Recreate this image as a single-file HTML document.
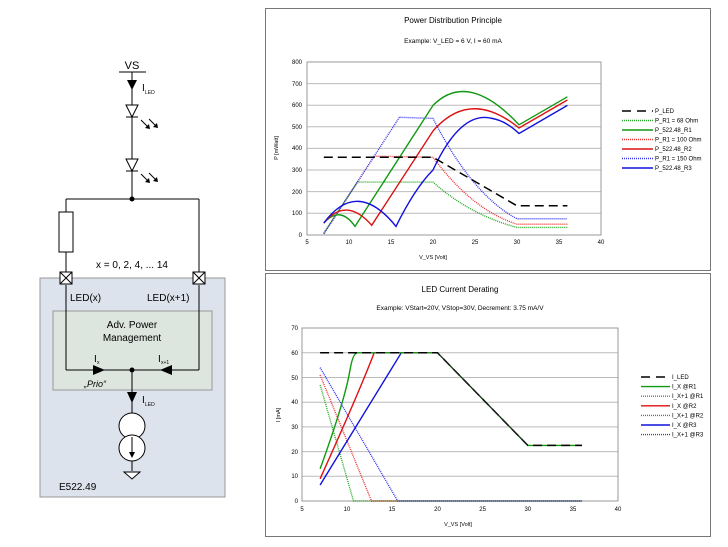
<!DOCTYPE html>
<html><head><meta charset="utf-8"><style>
html,body{margin:0;padding:0;background:#fff;}
svg{display:block;font-family:"Liberation Sans",sans-serif;}
</style></head><body>
<svg width="728" height="547" viewBox="0 0 728 547" xmlns="http://www.w3.org/2000/svg">
<!-- LEFT DIAGRAM -->
<rect x="40" y="278" width="185" height="219" fill="#dce3ec" stroke="#999" stroke-width="1"/>
<rect x="53" y="311" width="159" height="79" fill="#dde5df" stroke="#999" stroke-width="1"/>
<g stroke="#000" stroke-width="1" fill="none">
<line x1="119" y1="72" x2="146" y2="72"/>
<line x1="132" y1="72" x2="132" y2="199"/>
<line x1="66" y1="199" x2="199" y2="199"/>
<line x1="66" y1="199" x2="66" y2="212"/>
<line x1="66" y1="252" x2="66" y2="272"/>
<line x1="199" y1="199" x2="199" y2="272"/>
<line x1="66" y1="285" x2="66" y2="370"/>
<line x1="199" y1="285" x2="199" y2="370"/>
<line x1="66" y1="370" x2="199" y2="370"/>
<line x1="132" y1="370" x2="132" y2="413"/>
<line x1="132" y1="461" x2="132" y2="471"/>
</g>
<text x="132" y="69" font-size="11" text-anchor="middle">VS</text>
<polygon points="127,80 137,80 132,90" fill="#000"/>
<text x="142" y="91" font-size="10">I</text><text x="145" y="94" font-size="5">LED</text>
<!-- diodes -->
<polygon points="126,105 138,105 132,117" fill="#fff" stroke="#000"/>
<line x1="126" y1="117" x2="138" y2="117" stroke="#000"/>
<polygon points="126,159 138,159 132,171" fill="#fff" stroke="#000"/>
<line x1="126" y1="171" x2="138" y2="171" stroke="#000"/>
<g stroke="#000" stroke-width="1">
<line x1="141" y1="120" x2="149" y2="128"/><line x1="149" y1="119" x2="157" y2="127"/>
<line x1="141" y1="174" x2="149" y2="182"/><line x1="149" y1="173" x2="157" y2="181"/>
</g>
<g fill="#000">
<polygon points="150,129 145,128 149,124"/><polygon points="158,128 153,127 157,123"/>
<polygon points="150,183 145,182 149,178"/><polygon points="158,182 153,181 157,177"/>
</g>
<circle cx="132" cy="199" r="2.5" fill="#000"/>
<rect x="59" y="212" width="14" height="40" fill="#fff" stroke="#000"/>
<!-- pads -->
<g stroke="#000" fill="#fff">
<rect x="60" y="272" width="12" height="12"/>
<line x1="60" y1="272" x2="72" y2="284"/><line x1="72" y1="272" x2="60" y2="284"/>
<rect x="193" y="272" width="12" height="12"/>
<line x1="193" y1="272" x2="205" y2="284"/><line x1="205" y1="272" x2="193" y2="284"/>
</g>
<text x="132" y="268" font-size="10" text-anchor="middle">x = 0, 2, 4, ... 14</text>
<text x="70" y="301" font-size="10">LED(x)</text>
<text x="147" y="301" font-size="10">LED(x+1)</text>
<text x="132" y="328" font-size="10" text-anchor="middle">Adv. Power</text>
<text x="132" y="341" font-size="10" text-anchor="middle">Management</text>
<polygon points="93,365 105,370 93,375" fill="#000"/>
<polygon points="172,365 160,370 172,375" fill="#000"/>
<circle cx="132" cy="370" r="2.5" fill="#000"/>
<text x="94" y="362" font-size="10">I</text><text x="97" y="364" font-size="5">x</text>
<text x="158" y="362" font-size="10">I</text><text x="161" y="364" font-size="5">x+1</text>
<text x="84" y="387" font-size="9" font-style="italic">„Prio“</text>
<polygon points="127,392 137,392 132,403" fill="#000"/>
<text x="142" y="403" font-size="10">I</text><text x="145" y="406" font-size="5">LED</text>
<circle cx="132" cy="426" r="13" fill="#fff" stroke="#000"/>
<circle cx="132" cy="448" r="13" fill="#fff" stroke="#000"/>
<line x1="132" y1="437" x2="132" y2="456" stroke="#000"/>
<polygon points="129,452 135,452 132,458" fill="#000"/>
<polygon points="124,472 140,472 132,479" fill="#fff" stroke="#000"/>
<text x="59" y="490" font-size="10">E522.49</text>

<!-- TOP CHART -->
<rect x="265.5" y="8.5" width="445" height="262" fill="#fff" stroke="#777"/>
<text x="453" y="23" font-size="8" text-anchor="middle">Power Distribution Principle</text>
<text x="453" y="43" font-size="6.5" text-anchor="middle">Example: V_LED = 6 V, I = 60 mA</text>
<g stroke="#bbb" stroke-width="1">
<line x1="307" y1="62" x2="601" y2="62"/><line x1="307" y1="83.6" x2="601" y2="83.6"/>
<line x1="307" y1="105.2" x2="601" y2="105.2"/><line x1="307" y1="126.8" x2="601" y2="126.8"/>
<line x1="307" y1="148.4" x2="601" y2="148.4"/><line x1="307" y1="170" x2="601" y2="170"/>
<line x1="307" y1="191.6" x2="601" y2="191.6"/><line x1="307" y1="213.2" x2="601" y2="213.2"/>
</g>
<rect x="307" y="62" width="294" height="173" fill="none" stroke="#999"/>
<g font-size="6" text-anchor="end">
<text x="302" y="64">800</text><text x="302" y="86">700</text><text x="302" y="107">600</text>
<text x="302" y="129">500</text><text x="302" y="150">400</text><text x="302" y="172">300</text>
<text x="302" y="194">200</text><text x="302" y="215">100</text><text x="302" y="237">0</text>
</g>
<g font-size="6" text-anchor="middle">
<text x="307" y="244">5</text><text x="349" y="244">10</text><text x="391" y="244">15</text>
<text x="433" y="244">20</text><text x="475" y="244">25</text><text x="517" y="244">30</text>
<text x="559" y="244">35</text><text x="601" y="244">40</text>
</g>
<text x="433" y="259" font-size="5.5" text-anchor="middle">V_VS [Volt]</text>
<text transform="translate(278,148) rotate(-90)" font-size="5.5" text-anchor="middle">P [mWatt]</text>
<g fill="none" stroke-width="1.4">
<path d="M323.8,232.8 L357.4,182.1 L433,182.1 Q470,215 517,227.4 L567.4,227.4" stroke="#22aa22" stroke-dasharray="1,1"/>
<path d="M323.8,233.9 L374.2,156.2 L433,157.2 Q472,210 517,224.2 L567.4,224.2" stroke="#ee3333" stroke-dasharray="1,1"/>
<path d="M323.8,233.9 L399.4,117.3 L433,118.4 Q472,195 517,218.8 L567.4,218.8" stroke="#3333ee" stroke-dasharray="1,1"/>
<path d="M323.8,223.1 Q340,205 355,226.4 L433,105.4 Q468,70 519,124.8 L567.4,96.8" stroke="#119911"/>
<path d="M323.8,223.1 Q346,196 371.7,225.3 L433,131 Q470,88 519,128 L567.4,100" stroke="#dd1111"/>
<path d="M323.8,223.1 Q357,178 396,226.4 Q415,188 433,170 Q460,112 490,118 Q505,120 519,133.5 L567.4,105.4" stroke="#1111dd"/>
<path d="M323.8,157.2 L433,157.2 L517,205.8 L567.4,205.8" stroke="#000" stroke-width="1.5" stroke-dasharray="9,5"/>
</g>
<g font-size="6">
<line x1="622" y1="111" x2="653" y2="111" stroke="#000" stroke-width="1.5" stroke-dasharray="9,6"/><text x="655" y="113">P_LED</text>
<line x1="622" y1="120.5" x2="653" y2="120.5" stroke="#22aa22" stroke-width="1.4" stroke-dasharray="1,1"/><text x="655" y="122.5">P_R1 = 68 Ohm</text>
<line x1="622" y1="130" x2="653" y2="130" stroke="#119911" stroke-width="1.4"/><text x="655" y="132">P_522.48_R1</text>
<line x1="622" y1="139.5" x2="653" y2="139.5" stroke="#ee3333" stroke-width="1.4" stroke-dasharray="1,1"/><text x="655" y="141.5">P_R1 = 100 Ohm</text>
<line x1="622" y1="149" x2="653" y2="149" stroke="#dd1111" stroke-width="1.4"/><text x="655" y="151">P_522.48_R2</text>
<line x1="622" y1="158.5" x2="653" y2="158.5" stroke="#3333ee" stroke-width="1.4" stroke-dasharray="1,1"/><text x="655" y="160.5">P_R1 = 150 Ohm</text>
<line x1="622" y1="168" x2="653" y2="168" stroke="#1111dd" stroke-width="1.4"/><text x="655" y="170">P_522.48_R3</text>
</g>

<!-- BOTTOM CHART -->
<rect x="265.5" y="273.5" width="445" height="263" fill="#fff" stroke="#777"/>
<text x="460" y="292" font-size="8" text-anchor="middle">LED Current Derating</text>
<text x="460" y="310" font-size="6.5" text-anchor="middle">Example: VStart=20V, VStop=30V, Decrement: 3.75 mA/V</text>
<g stroke="#bbb" stroke-width="1">
<line x1="302" y1="328" x2="618" y2="328"/><line x1="302" y1="352.8" x2="618" y2="352.8"/>
<line x1="302" y1="377.5" x2="618" y2="377.5"/><line x1="302" y1="402.2" x2="618" y2="402.2"/>
<line x1="302" y1="426.9" x2="618" y2="426.9"/><line x1="302" y1="451.6" x2="618" y2="451.6"/>
<line x1="302" y1="476.3" x2="618" y2="476.3"/>
</g>
<rect x="302" y="328" width="316" height="173" fill="none" stroke="#999"/>
<g font-size="6" text-anchor="end">
<text x="298" y="330">70</text><text x="298" y="355">60</text><text x="298" y="380">50</text>
<text x="298" y="404">40</text><text x="298" y="429">30</text><text x="298" y="454">20</text>
<text x="298" y="478">10</text><text x="298" y="503">0</text>
</g>
<g font-size="6" text-anchor="middle">
<text x="302" y="511">5</text><text x="347" y="511">10</text><text x="392" y="511">15</text>
<text x="437.5" y="511">20</text><text x="482.6" y="511">25</text><text x="527.8" y="511">30</text>
<text x="573" y="511">35</text><text x="618" y="511">40</text>
</g>
<text x="458" y="526" font-size="5.5" text-anchor="middle">V_VS [Volt]</text>
<text transform="translate(280,415) rotate(-90)" font-size="5.5" text-anchor="middle">I [mA]</text>
<g fill="none" stroke-width="1.4">
<path d="M320.1,384.9 L353.5,501 L581.9,501" stroke="#22aa22" stroke-dasharray="1,1"/>
<path d="M320.1,375 L371.5,501 L581.9,501" stroke="#ee3333" stroke-dasharray="1,1"/>
<path d="M320.1,367.6 L397.7,501 L581.9,501" stroke="#3333ee" stroke-dasharray="1,1"/>
<path d="M320.1,485 L401.3,352.8 L437.5,352.8" stroke="#1111dd"/>
<path d="M320.1,478.8 Q360,390 374.2,352.8 L437.5,352.8" stroke="#dd1111"/>
<path d="M320.1,468.9 Q345,400 350,370 Q353,352 358,352.8 L437.5,352.8 L527.8,445.4 L581.9,445.4" stroke="#119911"/>
<path d="M320.1,352.8 L437.5,352.8 L527.8,445.4 L581.9,445.4" stroke="#000" stroke-width="1.5" stroke-dasharray="9,5"/>
<path d="M437.5,352.8 L527.8,445.4" stroke="#222" stroke-width="1"/>
</g>
<g font-size="6">
<line x1="641" y1="377" x2="670" y2="377" stroke="#000" stroke-width="1.5" stroke-dasharray="9,6"/><text x="672" y="379">I_LED</text>
<line x1="641" y1="386.6" x2="670" y2="386.6" stroke="#119911" stroke-width="1.4"/><text x="672" y="388.6">I_X @R1</text>
<line x1="641" y1="396.2" x2="670" y2="396.2" stroke="#22aa22" stroke-width="1.4" stroke-dasharray="1,1"/><text x="672" y="398.2">I_X+1 @R1</text>
<line x1="641" y1="405.8" x2="670" y2="405.8" stroke="#dd1111" stroke-width="1.4"/><text x="672" y="407.8">I_X @R2</text>
<line x1="641" y1="415.4" x2="670" y2="415.4" stroke="#ee3333" stroke-width="1.4" stroke-dasharray="1,1"/><text x="672" y="417.4">I_X+1 @R2</text>
<line x1="641" y1="425" x2="670" y2="425" stroke="#1111dd" stroke-width="1.4"/><text x="672" y="427">I_X @R3</text>
<line x1="641" y1="434.6" x2="670" y2="434.6" stroke="#3333ee" stroke-width="1.4" stroke-dasharray="1,1"/><text x="672" y="436.6">I_X+1 @R3</text>
</g>
</svg>
</body></html>
